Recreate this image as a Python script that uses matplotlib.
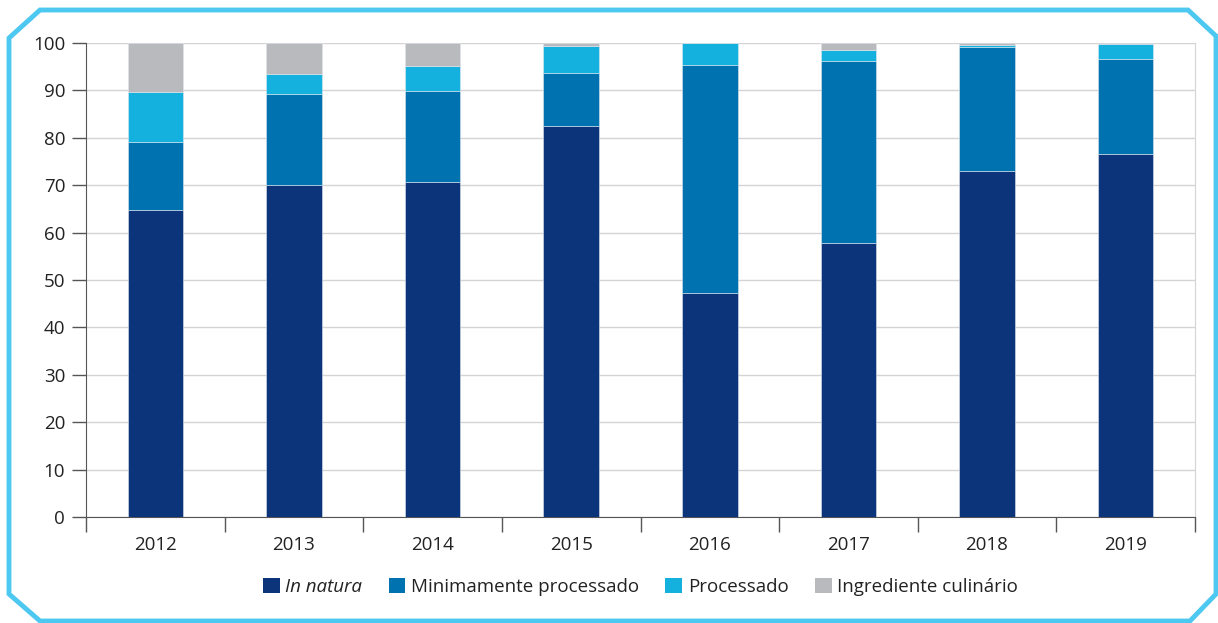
import numpy as np
import matplotlib.pyplot as plt
from matplotlib.patches import Polygon, Patch

plt.rcParams['font.family'] = ['Open Sans', 'DejaVu Sans']

anos = ["2012", "2013", "2014", "2015", "2016", "2017", "2018", "2019"]
in_natura = [64.8, 70.0, 70.7, 82.5, 47.3, 57.8, 73.0, 76.6]
minimamente = [14.4, 19.3, 19.2, 11.2, 48.1, 38.5, 26.2, 20.0]
processado = [10.5, 4.2, 5.3, 5.7, 4.5, 2.2, 0.4, 3.2]
ingrediente = [10.3, 6.5, 4.8, 0.6, 0.1, 1.5, 0.4, 0.2]

series = ["In natura", "Minimamente processado", "Processado", "Ingrediente culinário"]
cores = ["#0b347a", "#0072b0", "#14b1df", "#b9babe"]

W, H = 1218, 623
fig = plt.figure(figsize=(W / 100, H / 100), dpi=100)

# moldura com cantos chanfrados
moldura = [(9, 38), (40, 10), (1188, 10), (1216, 36), (1216, 594),
           (1190, 621), (40, 621), (9, 594)]
poly = Polygon([(x / W, 1 - y / H) for x, y in moldura], closed=True,
               fill=False, edgecolor="#4dc8f0", linewidth=3.5,
               transform=fig.transFigure, joinstyle="miter")
fig.add_artist(poly)

ax = fig.add_axes([86 / W, 1 - 517 / H, (1195 - 86) / W, (517 - 43) / H])

x = np.arange(len(anos))
base = np.zeros(len(anos))
for vals, cor in zip([in_natura, minimamente, processado, ingrediente], cores):
    ax.bar(x, vals, bottom=base, width=0.4, color=cor, edgecolor="#dfe6ee",
           linewidth=0.4, zorder=3)
    base += np.array(vals)

ax.set_xlim(-0.5, len(anos) - 0.5)
ax.set_ylim(0, 100)
ax.set_yticks(range(0, 101, 10))
ax.set_xticks(x)
ax.set_xticklabels(anos)
ax.set_xticks(np.arange(-0.5, len(anos), 1), minor=True)
ax.tick_params(axis="x", which="major", length=0, pad=14, labelsize=13.5,
               labelcolor="#222222")
ax.tick_params(axis="x", which="minor", length=11, color="#555555", width=1)
ax.tick_params(axis="y", length=10, color="#555555", width=1, pad=5,
               labelsize=13.5, labelcolor="#222222")

ax.grid(axis="y", color="#d4d4d4", linewidth=1, zorder=0)
ax.set_axisbelow(True)
ax.spines["top"].set_visible(False)
ax.spines["right"].set_color("#d4d4d4")
ax.spines["left"].set_color("#555555")
ax.spines["bottom"].set_color("#555555")

handles = [Patch(facecolor=c, edgecolor="none") for c in cores]
leg = fig.legend(handles, series, loc="center", ncol=4,
                 bbox_to_anchor=(640.5 / W, 1 - 587 / H), frameon=False,
                 fontsize=13.5, handlelength=0.9, handleheight=0.9,
                 handletextpad=0.3, columnspacing=1.4)
leg.get_texts()[0].set_style("italic")
for t in leg.get_texts():
    t.set_color("#222222")

fig.savefig("out.png", dpi=100)
